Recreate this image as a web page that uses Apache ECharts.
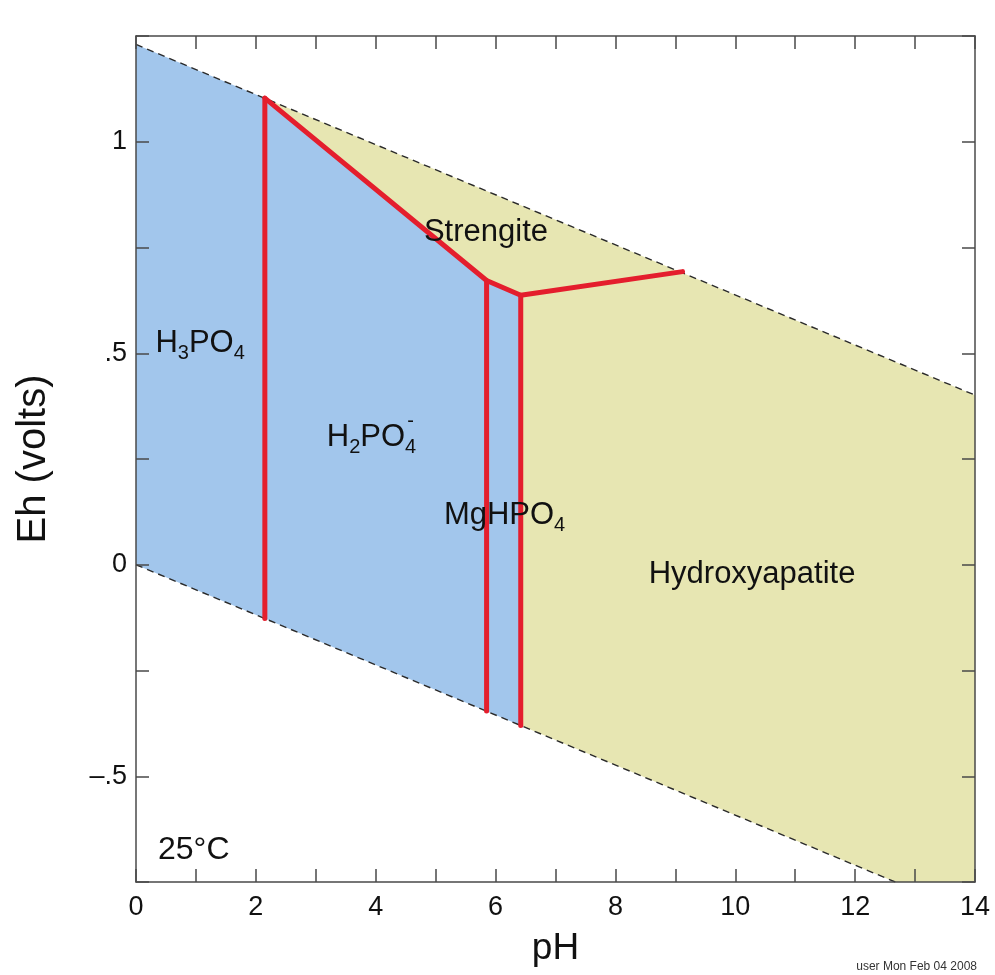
<!DOCTYPE html>
<html>
<head>
<meta charset="utf-8">
<script src="https://cdn.jsdelivr.net/npm/echarts@6/dist/echarts.min.js"></script>
<style>
  html, body { margin: 0; padding: 0; background: #ffffff; }
  #chart { width: 995px; height: 975px; }
</style>
</head>
<body>
<div id="chart"></div>
<script>
// Eh–pH stability diagram for phosphate species at 25 °C.

// Axis ranges and ticks
const pHRange = [0, 14];
const ehRange = [-0.75, 1.25];
const xTickLabels = ['0', '2', '4', '6', '8', '10', '12', '14'];
const yTickValues = [-0.5, 0, 0.5, 1];
const yTickLabels = ['\u2013.5', '0', '.5', '1'];

// Water stability limits (upper: O2/H2O, lower: H2O/H2)
const waterUpper = [[0, 1.23], [14, 0.401]];
const waterLower = [[0, 0], [12.67, -0.75]];

// Phase boundaries [pH, Eh]
const boundH3PO4 = [[2.15, -0.127], [2.15, 1.103]];
const boundStrengite = [[2.15, 1.103], [5.85, 0.672], [6.42, 0.637], [9.12, 0.693]];
const boundMgLeft = [[5.85, 0.672], [5.85, -0.346]];
const boundMgRight = [[6.42, 0.637], [6.42, -0.38]];

// Field polygons built from the boundaries above
const aqueousField = [waterLower[0], waterUpper[0], boundStrengite[0], boundStrengite[1], boundStrengite[2], boundMgRight[1]];
const mineralField = [boundStrengite[0], boundStrengite[1], boundStrengite[2], boundMgRight[1], waterLower[1], [14, -0.75], waterUpper[1]];

// Field names and their anchor points [pH, Eh]
const fieldNames = ['Strengite', 'H3PO4', 'H2PO4', 'MgHPO4', 'Hydroxyapatite'];
const fieldPos = [[5.84, 0.785], [1.07, 0.522], [3.93, 0.300], [6.15, 0.116], [10.28, -0.024]];
const fieldText = [
  'Strengite',
  'H{sub|3}PO{sub|4}',
  'H{sub|2}PO{sub|4}',
  'MgHPO{sub|4}',
  'Hydroxyapatite'
];
const chargePos = [[4.58, 0.338]];

const FONT = "'Liberation Sans', Arial, Helvetica, sans-serif";
const BLUE = '#a2c6ec';
const YELLOW = '#e7e6b2';
const RED = '#e41e2d';
const AXIS = '#4a4a4a';
const INK = '#111111';

function polygonSeries(points, color) {
  return {
    type: 'custom',
    coordinateSystem: 'cartesian2d',
    silent: true,
    z: 1,
    data: [0],
    renderItem: function (params, api) {
      return {
        type: 'polygon',
        shape: { points: points.map(p => api.coord(p)) },
        style: { fill: color, stroke: null }
      };
    }
  };
}

function boundary(points) {
  return {
    type: 'line',
    data: points,
    symbol: 'none',
    silent: true,
    z: 5,
    lineStyle: { color: RED, width: 5, cap: 'round', join: 'round' }
  };
}

function waterLine(points) {
  return {
    type: 'line',
    data: points,
    symbol: 'none',
    silent: true,
    z: 4,
    lineStyle: { color: '#2a2a2a', width: 1.4, type: [7, 5] }
  };
}

const labelData = fieldNames.map((n, i) => ({
  name: n,
  value: fieldPos[i],
  label: { formatter: fieldText[i] }
}));
chargePos.forEach(p => labelData.push({
  name: 'charge',
  value: p,
  label: { formatter: '-', fontSize: 20 }
}));

const chart = echarts.init(document.getElementById('chart'), null, { renderer: 'canvas' });

const commonX = {
  type: 'value', min: pHRange[0], max: pHRange[1], interval: 1, z: 8,
  splitLine: { show: false },
  axisLine: { show: true, onZero: false, lineStyle: { color: AXIS, width: 1.5 } },
  axisTick: { show: true, inside: true, length: 13, lineStyle: { color: AXIS, width: 1.5 } }
};
const commonY = {
  type: 'value', min: ehRange[0], max: ehRange[1], interval: 0.25, z: 8,
  splitLine: { show: false },
  axisLine: { show: true, onZero: false, lineStyle: { color: AXIS, width: 1.5 } },
  axisTick: { show: true, inside: true, length: 13, lineStyle: { color: AXIS, width: 1.5 } }
};

chart.setOption({
  animation: false,
  backgroundColor: '#ffffff',
  textStyle: { fontFamily: FONT },
  grid: { left: 136, right: 20, top: 36, bottom: 93 },
  xAxis: [
    Object.assign({}, commonX, {
      position: 'bottom',
      name: 'pH',
      nameLocation: 'middle',
      nameGap: 48,
      nameTextStyle: { fontSize: 37, color: INK, fontFamily: FONT },
      axisLabel: {
        show: true, margin: 12, fontSize: 27, color: INK, fontFamily: FONT,
        formatter: function (v) {
          const s = String(v);
          return xTickLabels.indexOf(s) >= 0 ? s : '';
        }
      }
    }),
    Object.assign({}, commonX, { position: 'top', axisLabel: { show: false } })
  ],
  yAxis: [
    Object.assign({}, commonY, {
      position: 'left',
      name: 'Eh (volts)',
      nameLocation: 'middle',
      nameGap: 82,
      nameTextStyle: { fontSize: 40, color: INK, fontFamily: FONT },
      axisLabel: {
        show: true, margin: 9, fontSize: 27, color: INK, fontFamily: FONT,
        showMinLabel: true, showMaxLabel: true,
        formatter: function (v) {
          for (let i = 0; i < yTickValues.length; i++) {
            if (Math.abs(v - yTickValues[i]) < 1e-6) return yTickLabels[i];
          }
          return '';
        }
      }
    }),
    Object.assign({}, commonY, { position: 'right', axisLabel: { show: false } })
  ],
  series: [
    polygonSeries(aqueousField, BLUE),
    polygonSeries(mineralField, YELLOW),
    waterLine(waterUpper),
    waterLine(waterLower),
    boundary(boundH3PO4),
    boundary(boundStrengite),
    boundary(boundMgLeft),
    boundary(boundMgRight),
    {
      type: 'scatter',
      symbolSize: 0,
      silent: true,
      z: 10,
      itemStyle: { opacity: 1 },
      data: labelData,
      label: {
        show: true,
        position: 'inside',
        color: INK,
        opacity: 1,
        fontSize: 31,
        fontFamily: FONT,
        rich: {
          sub: { fontSize: 20, padding: [20, 0, 0, 0], color: INK, fontFamily: FONT }
        }
      }
    }
  ],
  graphic: [
    {
      type: 'text', left: 158, top: 834, silent: true,
      style: { text: '25\u00b0C', fontSize: 32, fill: INK, fontFamily: FONT }
    },
    {
      type: 'text', right: 18, top: 961, silent: true,
      style: { text: 'user Mon Feb 04 2008', fontSize: 12, fill: '#333333', fontFamily: FONT }
    }
  ]
});
</script>
</body>
</html>
